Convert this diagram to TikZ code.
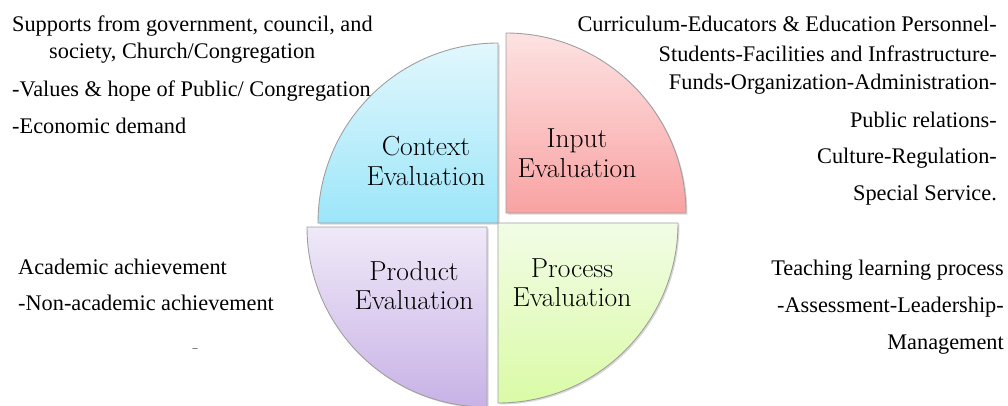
\documentclass[tikz,border=0pt]{standalone}
\usepackage{fontspec}
\newfontfamily\sidefont{Liberation Serif}
\usetikzlibrary{shadows}

\definecolor{ctxtop}{HTML}{E2F7FD}
\definecolor{ctxbot}{HTML}{9CE6F9}
\definecolor{inptop}{HTML}{FDE2E2}
\definecolor{inpbot}{HTML}{F9A2A2}
\definecolor{prctop}{HTML}{F2FCE6}
\definecolor{prcbot}{HTML}{DAFBA6}
\definecolor{prdtop}{HTML}{EFE9F8}
\definecolor{prdbot}{HTML}{C8B2E6}

\tikzset{
    quadrant/.style={draw=gray!75, line width=0.9pt, line join=round,
        drop shadow={shadow xshift=1.5pt, shadow yshift=-1.5pt, opacity=0.3}},
    qlabel/.style={anchor=base, inner sep=0pt, text=black,
        font=\fontsize{27.5}{32}\selectfont},
    sidetext/.style={inner sep=0pt, font=\sidefont\fontsize{22.3}{27}\selectfont}
}

\begin{document}
\begin{tikzpicture}[x=1pt, y=1pt]
    \useasboundingbox (0,0) rectangle (1008,405);

    % the four quarters of the wheel
    \path[quadrant, top color=ctxtop, bottom color=ctxbot]
        (498,182) -- (318,182) arc[start angle=180, end angle=90, radius=180pt] -- cycle;
    \path[quadrant, top color=inptop, bottom color=inpbot]
        (506,192) -- (506,372) arc[start angle=90, end angle=0, radius=180pt] -- cycle;
    \path[quadrant, top color=prctop, bottom color=prcbot]
        (498,182) -- (678,182) arc[start angle=0, end angle=-90, radius=180pt] -- cycle;
    \path[quadrant, top color=prdtop, bottom color=prdbot]
        (487,178) -- (487,-2) arc[start angle=-90, end angle=-180, radius=180pt] -- cycle;

    % quarter names
    \node[qlabel] (ctx1) at (426,250) {Context};
    \node[qlabel] (ctx2) at (426,220) {Evaluation};
    \node[qlabel] (inp1) at (577,258) {Input};
    \node[qlabel] (inp2) at (577,228) {Evaluation};
    \node[qlabel] (prd1) at (414,125) {Product};
    \node[qlabel] (prd2) at (414,96) {Evaluation};
    \node[qlabel] (prc1) at (572,128) {Process};
    \node[qlabel] (prc2) at (572,99) {Evaluation};

    % context items (top left)
    \node[sidetext, anchor=base west] (ctxa) at (12,373) {Supports from government, council, and};
    \node[sidetext, anchor=base west] (ctxb) at (49,346) {society, Church/Congregation};
    \node[sidetext, anchor=base west] (ctxc) at (12,308) {-Values \& hope of Public/ Congregation};
    \node[sidetext, anchor=base west] (ctxd) at (12,272) {-Economic demand};

    % input items (top right)
    \node[sidetext, anchor=base east] (inpa) at (997,373) {Curriculum-Educators \& Education Personnel-};
    \node[sidetext, anchor=base east] (inpb) at (997,343) {Students-Facilities and Infrastructure-};
    \node[sidetext, anchor=base east] (inpc) at (997,315) {Funds-Organization-Administration-};
    \node[sidetext, anchor=base east] (inpd) at (997,277) {Public relations-};
    \node[sidetext, anchor=base east] (inpe) at (997,242) {Culture-Regulation-};
    \node[sidetext, anchor=base east] (inpf) at (997,205) {Special Service.};

    % product items (bottom left)
    \node[sidetext, anchor=base west] (prda) at (18,131) {Academic achievement};
    \node[sidetext, anchor=base west] (prdb) at (18,95) {-Non-academic achievement};
    \node[inner sep=0pt, font=\sidefont\fontsize{10}{10}\selectfont] (prdc) at (195,55) {–};

    % process items (bottom right)
    \node[sidetext, anchor=base east] (prca) at (1004,130) {Teaching learning process};
    \node[sidetext, anchor=base east] (prcb) at (1004,93) {-Assessment-Leadership-};
    \node[sidetext, anchor=base east] (prcc) at (1004,56) {Management};
\end{tikzpicture}
\end{document}
